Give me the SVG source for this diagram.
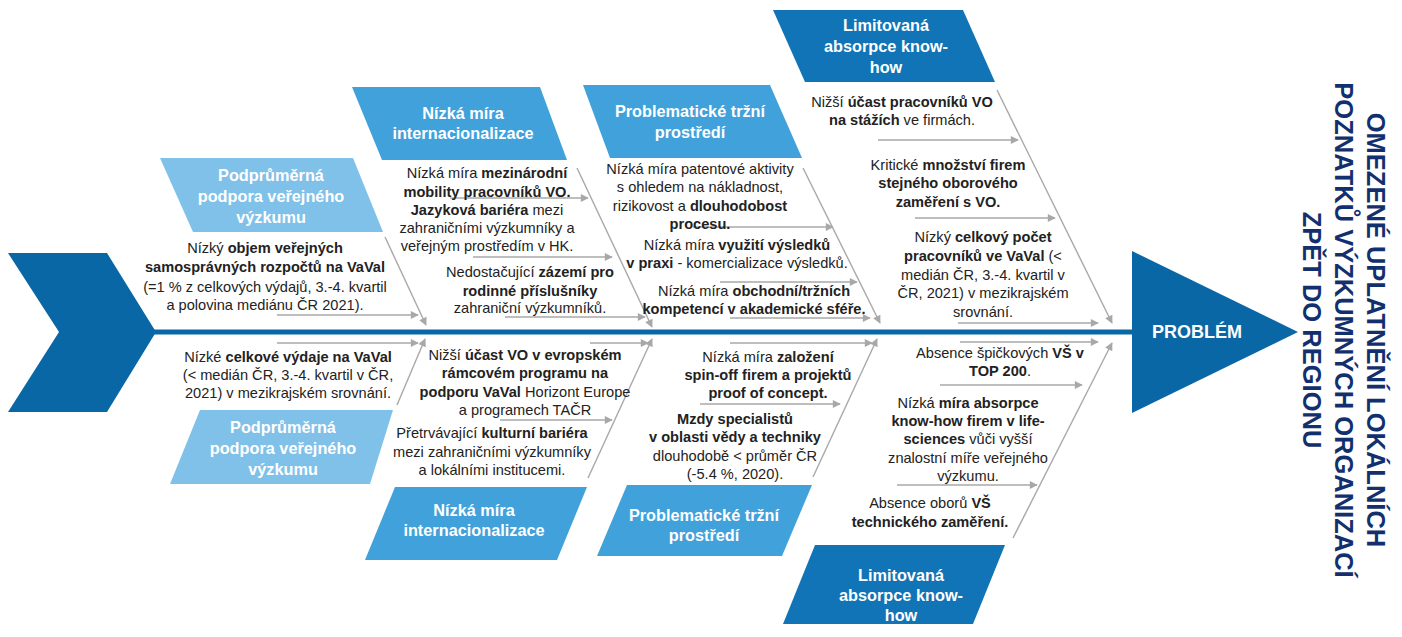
<svg xmlns="http://www.w3.org/2000/svg" width="1402" height="637" viewBox="0 0 1402 637">
<defs>
<marker id="ah" viewBox="0 0 10 10" refX="9" refY="5" markerWidth="10" markerHeight="8" orient="auto" markerUnits="userSpaceOnUse"><path d="M0,0 L10,5 L0,10 z" fill="#a8a8a8"/></marker>
<style>
.bone{stroke:#a8a8a8;stroke-width:1.4;fill:none;marker-end:url(#ah)}
.t{font-family:"Liberation Sans",Arial,sans-serif;font-size:14.6px;fill:#222;text-anchor:middle}
.b{font-weight:bold}
.cat{font-family:"Liberation Sans",Arial,sans-serif;font-size:16.3px;font-weight:bold;fill:#fff;text-anchor:middle}
.light{fill:#7fc1e9}
.mid{fill:#41a1da}
.dark{fill:#1174b6}
.main{fill:#0a67a6}
</style>
</defs>
<rect width="1402" height="637" fill="#fff"/>

<g id="spine">
<polygon class="main" points="8,253 107,253 156,332 107,412 8,412 59,332"/>
<rect class="main" x="150" y="329.5" width="990" height="5"/>
</g>

<g id="problem">
<polygon class="main" points="1132,251 1298,332 1132,413"/>
<text x="1197" y="338" style="font-family:'Liberation Sans',Arial,sans-serif;font-size:18px;font-weight:bold;fill:#fff;text-anchor:middle">PROBLÉM</text>
</g>

<g id="title" style="font-family:'Liberation Sans',Arial,sans-serif;font-size:25.5px;font-weight:bold;fill:#13306e;text-anchor:middle">
<text transform="translate(1367,330) rotate(90)">OMEZENÉ UPLATNĚNÍ LOKÁLNÍCH</text>
<text transform="translate(1335,330) rotate(90)">POZNATKŮ VÝZKUMNÝCH ORGANIZACÍ</text>
<text transform="translate(1303,330) rotate(90)">ZPĚT DO REGIONU</text>
</g>

<g id="connectors">
<path class="bone" d="M385,237 L426,325"/>
<path class="bone" d="M277,315 L418,315"/>
<path class="bone" d="M577,168 L652,327"/>
<path class="bone" d="M450,198 L588,198"/>
<path class="bone" d="M473,257 L612,257"/>
<path class="bone" d="M505,317 L645,317"/>
<path class="bone" d="M803,168 L880,323"/>
<path class="bone" d="M693,227 L833,227"/>
<path class="bone" d="M720,282 L857,282"/>
<path class="bone" d="M730,318 L870,318"/>
<path class="bone" d="M997,90 L1112,323"/>
<path class="bone" d="M878,140 L1018,140"/>
<path class="bone" d="M915,218 L1055,218"/>
<path class="bone" d="M958,323 L1098,323"/>
<path class="bone" d="M397,405 L425,339"/>
<path class="bone" d="M277,343 L418,343"/>
<path class="bone" d="M588,478 L652,339"/>
<path class="bone" d="M590,343 L648,343"/>
<path class="bone" d="M500,420 L612,420"/>
<path class="bone" d="M813,477 L877,339"/>
<path class="bone" d="M730,343 L872,343"/>
<path class="bone" d="M700,404 L840,404"/>
<path class="bone" d="M1013,538 L1112,343"/>
<path class="bone" d="M960,342 L1098,342"/>
<path class="bone" d="M940,385 L1082,385"/>
<path class="bone" d="M897,485 L1037,485"/>
</g>

<g id="cat-podpora-top">
<polygon class="light" points="160,158 353,158 383,232 193,232"/>
<text class="cat"><tspan x="271" y="181">Podprůměrná</tspan><tspan x="271" y="202">podpora veřejného</tspan><tspan x="271" y="223">výzkumu</tspan></text>
</g>
<g id="cat-intern-top">
<polygon class="mid" points="352,87 540,87 567,160 382,160"/>
<text class="cat"><tspan x="463" y="119">Nízká míra</tspan><tspan x="463" y="139">internacionalizace</tspan></text>
</g>
<g id="cat-trh-top">
<polygon class="mid" points="583,85 770,85 802,158 610,158"/>
<text class="cat"><tspan x="690" y="117">Problematické tržní</tspan><tspan x="690" y="138">prostředí</tspan></text>
</g>
<g id="cat-know-top">
<polygon class="dark" points="773,10 963,10 995,82 805,82"/>
<text class="cat"><tspan x="886" y="31">Limitovaná</tspan><tspan x="886" y="52">absorpce know-</tspan><tspan x="886" y="73">how</tspan></text>
</g>
<g id="cat-podpora-bottom">
<polygon class="light" points="200,410 393,410 370,484 170,484"/>
<text class="cat"><tspan x="283" y="433">Podprůměrná</tspan><tspan x="283" y="454">podpora veřejného</tspan><tspan x="283" y="475">výzkumu</tspan></text>
</g>
<g id="cat-intern-bottom">
<polygon class="mid" points="395,487 587,487 557,560 365,560"/>
<text class="cat"><tspan x="474" y="516">Nízká míra</tspan><tspan x="474" y="536">internacionalizace</tspan></text>
</g>
<g id="cat-trh-bottom">
<polygon class="mid" points="627,485 812,485 782,556 597,556"/>
<text class="cat"><tspan x="704" y="521">Problematické tržní</tspan><tspan x="704" y="541">prostředí</tspan></text>
</g>
<g id="cat-know-bottom">
<polygon class="dark" points="815,545 1005,545 973,624 783,624"/>
<text class="cat"><tspan x="901" y="581">Limitovaná</tspan><tspan x="901" y="601">absorpce know-</tspan><tspan x="901" y="621">how</tspan></text>
</g>

<g id="cause-a">
<text class="t"><tspan x="265" y="253">Nízký <tspan class="b">objem veřejných</tspan></tspan><tspan x="265" y="272" class="b">samosprávných rozpočtů na VaVal</tspan><tspan x="265" y="292">(=1 % z celkových výdajů, 3.-4. kvartil</tspan><tspan x="265" y="310">a polovina mediánu ČR 2021).</tspan></text>
</g>
<g id="cause-b">
<text class="t"><tspan x="487" y="178">Nízká míra <tspan class="b">mezinárodní</tspan></tspan><tspan x="487" y="197" class="b">mobility pracovníků VO.</tspan><tspan x="487" y="215"><tspan class="b">Jazyková bariéra</tspan> mezi</tspan><tspan x="487" y="233">zahraničními výzkumníky a</tspan><tspan x="487" y="251">veřejným prostředím v HK.</tspan></text>
</g>
<g id="cause-c">
<text class="t"><tspan x="530" y="277">Nedostačující <tspan class="b">zázemí pro</tspan></tspan><tspan x="530" y="296" class="b">rodinné příslušníky</tspan><tspan x="530" y="313">zahraniční výzkumníků.</tspan></text>
</g>
<g id="cause-d">
<text class="t"><tspan x="700" y="174">Nízká míra patentové aktivity</tspan><tspan x="700" y="192">s ohledem na nákladnost,</tspan><tspan x="700" y="211">rizikovost a <tspan class="b">dlouhodobost</tspan></tspan><tspan x="700" y="229" class="b">procesu.</tspan></text>
</g>
<g id="cause-e">
<text class="t"><tspan x="737" y="250">Nízká míra <tspan class="b">využití výsledků</tspan></tspan><tspan x="737" y="268"><tspan class="b">v praxi</tspan> - komercializace výsledků.</tspan></text>
</g>
<g id="cause-f">
<text class="t"><tspan x="754" y="296">Nízká míra <tspan class="b">obchodní/tržních</tspan></tspan><tspan x="754" y="314" class="b">kompetencí v akademické sféře.</tspan></text>
</g>
<g id="cause-g">
<text class="t"><tspan x="902" y="107">Nižší <tspan class="b">účast pracovníků VO</tspan></tspan><tspan x="902" y="125"><tspan class="b">na stážích</tspan> ve firmách.</tspan></text>
</g>
<g id="cause-h">
<text class="t"><tspan x="948" y="170">Kritické <tspan class="b">množství firem</tspan></tspan><tspan x="948" y="188" class="b">stejného oborového</tspan><tspan x="948" y="207" class="b">zaměření s VO.</tspan></text>
</g>
<g id="cause-i">
<text class="t"><tspan x="983" y="242">Nízký <tspan class="b">celkový počet</tspan></tspan><tspan x="983" y="261"><tspan class="b">pracovníků ve VaVal</tspan> (&lt;</tspan><tspan x="983" y="280">medián ČR, 3.-4. kvartil v</tspan><tspan x="983" y="298">ČR, 2021) v mezikrajském</tspan><tspan x="983" y="317">srovnání.</tspan></text>
</g>
<g id="cause-j">
<text class="t"><tspan x="288" y="362">Nízké <tspan class="b">celkové výdaje na VaVal</tspan></tspan><tspan x="288" y="380">(&lt; medián ČR, 3.-4. kvartil v ČR,</tspan><tspan x="288" y="398">2021) v mezikrajském srovnání.</tspan></text>
</g>
<g id="cause-k">
<text class="t"><tspan x="525" y="360">Nižší <tspan class="b">účast VO v evropském</tspan></tspan><tspan x="525" y="378" class="b">rámcovém programu na</tspan><tspan x="525" y="397"><tspan class="b">podporu VaVal</tspan> Horizont Europe</tspan><tspan x="525" y="415">a programech TAČR</tspan></text>
</g>
<g id="cause-l">
<text class="t"><tspan x="492" y="438">Přetrvávající <tspan class="b">kulturní bariéra</tspan></tspan><tspan x="492" y="457">mezi zahraničními výzkumníky</tspan><tspan x="492" y="475">a lokálními institucemi.</tspan></text>
</g>
<g id="cause-m">
<text class="t"><tspan x="768" y="362">Nízká míra <tspan class="b">založení</tspan></tspan><tspan x="768" y="380" class="b">spin-off firem a projektů</tspan><tspan x="768" y="398" class="b">proof of concept.</tspan></text>
</g>
<g id="cause-n">
<text class="t"><tspan x="735" y="424" class="b">Mzdy specialistů</tspan><tspan x="735" y="442" class="b">v oblasti vědy a techniky</tspan><tspan x="735" y="461">dlouhodobě &lt; průměr ČR</tspan><tspan x="735" y="479">(-5.4 %, 2020).</tspan></text>
</g>
<g id="cause-o">
<text class="t"><tspan x="1000" y="358">Absence špičkových <tspan class="b">VŠ v</tspan></tspan><tspan x="1000" y="376"><tspan class="b">TOP 200</tspan>.</tspan></text>
</g>
<g id="cause-p">
<text class="t"><tspan x="968" y="408">Nízká <tspan class="b">míra absorpce</tspan></tspan><tspan x="968" y="426" class="b">know-how firem v life-</tspan><tspan x="968" y="444"><tspan class="b">sciences</tspan> vůči vyšší</tspan><tspan x="968" y="463">znalostní míře veřejného</tspan><tspan x="968" y="481">výzkumu.</tspan></text>
</g>
<g id="cause-q">
<text class="t"><tspan x="930" y="508">Absence oborů <tspan class="b">VŠ</tspan></tspan><tspan x="930" y="527" class="b">technického zaměření.</tspan></text>
</g>
</svg>
